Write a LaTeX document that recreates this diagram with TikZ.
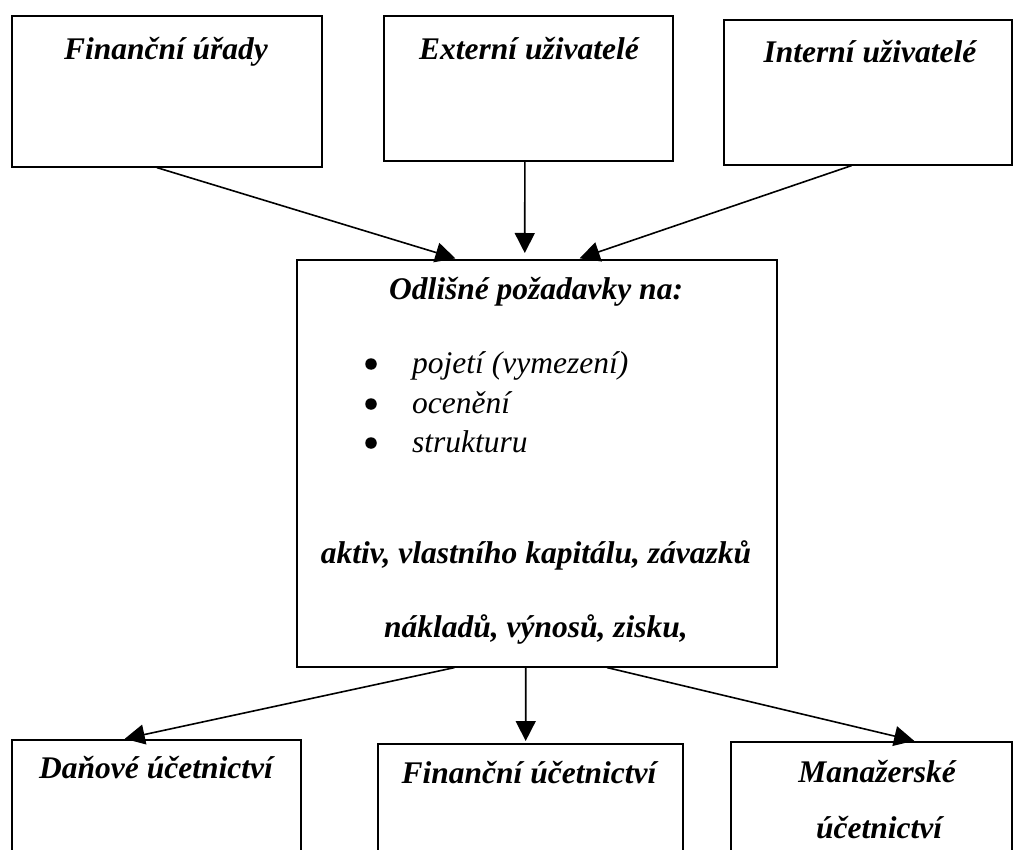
\documentclass[tikz,border=0pt]{standalone}
\usepackage{fontspec}
\setmainfont{Liberation Serif}
\usetikzlibrary{arrows.meta,calc}
\begin{document}
\begin{tikzpicture}[x=1pt,y=-1pt,
  box/.style={draw, line width=1.6pt, anchor=north west, inner sep=0pt},
  head/.style={font=\fontsize{31.5}{36}\selectfont\bfseries\itshape, anchor=base, inner sep=0pt},
  item/.style={font=\fontsize{31.5}{36}\selectfont\itshape, anchor=base west, inner sep=0pt},
  bul/.style={circle, fill, minimum size=11.5pt, inner sep=0pt},
  arr/.style={line width=1.6pt, -{Triangle[length=20pt,width=20pt]}}
]
\clip (0,0) rectangle (1017,850);
\fill[white] (0,0) rectangle (1017,850);

% upper row: users of accounting information
\node[box, minimum width=310pt, minimum height=151pt] (fu) at (11,15) {};
\node[box, minimum width=289pt, minimum height=145pt] (eu) at (383,15) {};
\node[box, minimum width=288pt, minimum height=145pt] (iu) at (723,19) {};
\node[head] (fu-t) at (166,60) {Finanční úřady};
\node[head] (eu-t) at (529,60) {Externí uživatelé};
\node[head] (iu-t) at (870,63) {Interní uživatelé};

% central box with the requirements
\node[box, minimum width=480pt, minimum height=407pt] (cb) at (296,259) {};
\node[head] (cb-t) at (536,300) {Odlišné požadavky na:};
\node[bul] (b1) at (371,364) {};
\node[bul] (b2) at (371,404) {};
\node[bul] (b3) at (371,443) {};
\node[item] (i1) at (412,373) {pojetí (vymezení)};
\node[item] (i2) at (412,413) {ocenění};
\node[item] (i3) at (412,452) {strukturu};
\node[head] (cb-a) at (536,563) {aktiv, vlastního kapitálu, závazků};
\node[head] (cb-n) at (536,637) {nákladů, výnosů, zisku,};

% lower row: kinds of accounting
\node[box, minimum width=289pt, minimum height=200pt] (du) at (11,739) {};
\node[box, minimum width=305pt, minimum height=200pt] (fin) at (377,743) {};
\node[box, minimum width=281pt, minimum height=200pt] (mu) at (730,741) {};
\node[head] (du-t) at (156,778) {Daňové účetnictví};
\node[head] (fin-t) at (529,783) {Finanční účetnictví};
\node[head] (mu-t1) at (877,782) {Manažerské};
\node[head] (mu-t2) at (879,838) {účetnictví};

% connectors
\draw[arr, shorten >=2pt] ($(fu.south west)!0.468!(fu.south east)$) -- ($(cb.north west)!0.335!(cb.north east)$);
\draw[arr, shorten >=6pt] ($(eu.south west)!0.488!(eu.south east)$) -- ($(cb.north west)!0.475!(cb.north east)$);
\draw[arr, shorten >=2pt] ($(iu.south west)!0.444!(iu.south east)$) -- ($(cb.north west)!0.585!(cb.north east)$);
\draw[arr, shorten >=1pt] ($(cb.south west)!0.329!(cb.south east)$) -- ($(du.north west)!0.388!(du.north east)$);
\draw[arr, shorten >=2pt] ($(cb.south west)!0.477!(cb.south east)$) -- ($(fin.north west)!0.485!(fin.north east)$);
\draw[arr, shorten >=1pt] ($(cb.south west)!0.646!(cb.south east)$) -- ($(mu.north west)!0.655!(mu.north east)$);
\end{tikzpicture}
\end{document}
